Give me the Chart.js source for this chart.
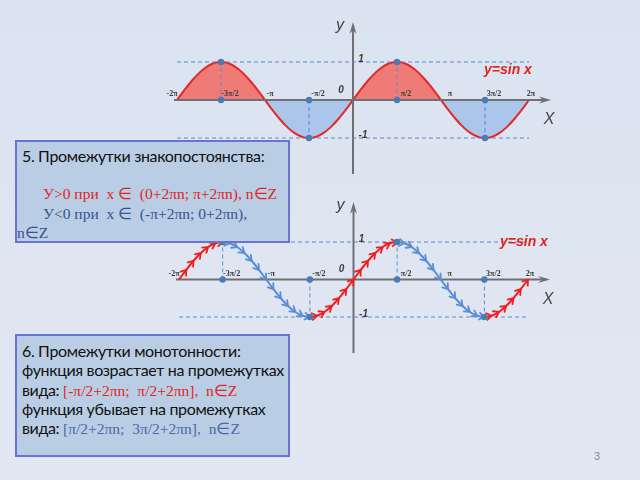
<!DOCTYPE html>
<html><head><meta charset="utf-8">
<script src="https://cdn.jsdelivr.net/npm/chart.js@4/dist/chart.umd.min.js"></script>
<style>
html,body{margin:0;padding:0;}
body{width:640px;height:480px;overflow:hidden;position:relative;background:linear-gradient(180deg,#dae3f0 0%,#e2e8f3 100%);}
canvas{position:absolute;left:0;}
#c1{top:0;} #c2{top:180px;}
.box{position:absolute;left:15px;width:275px;background:#b9cde4;border:2px solid #6b72d6;box-sizing:border-box;}
.ln{position:absolute;white-space:pre;line-height:20px;height:20px;}
.sans{font-family:"Lato","Liberation Sans",sans-serif;font-size:16px;letter-spacing:-0.35px;color:#111;}
.serif{font-family:"Liberation Serif",serif;font-size:15.5px;letter-spacing:0;}
.red{color:#e3241d;} .blue{color:#34548f;} .blue2{color:#4a69a6;}
#pg{position:absolute;left:594px;top:450px;font:11px "Liberation Sans",sans-serif;color:#8a8a8a;}
</style></head>
<body>
<canvas id="c1" width="640" height="180"></canvas>
<canvas id="c2" width="640" height="180"></canvas>
<div class="box" style="top:140px;height:103px">
  <div class="ln sans" style="top:4px;left:5px">5. Промежутки знакопостоянства:</div>
  <div class="ln serif red" style="top:42px;left:26px">У&gt;0 при  x ∈  (0+2πn; π+2πn), n∈Z</div>
  <div class="ln serif blue" style="top:62px;left:26px">У&lt;0 при  x ∈  (-π+2πn; 0+2πn),</div>
  <div class="ln serif blue" style="top:81px;left:0px">n∈Z</div>
</div>
<div class="box" style="top:334px;height:123px">
  <div class="ln sans" style="top:5px;left:5px">6. Промежутки монотонности:</div>
  <div class="ln sans" style="top:24px;left:5px">функция возрастает на промежутках</div>
  <div class="ln sans" style="top:44px;left:5px">вида: <span class="serif red">[-π/2+2πn;  π/2+2πn],  n∈Z</span></div>
  <div class="ln sans" style="top:63px;left:5px">функция убывает на промежутках</div>
  <div class="ln sans" style="top:82px;left:5px">вида: <span class="serif blue2">[π/2+2πn;  3π/2+2πn],  n∈Z</span></div>
</div>
<div id="pg">3</div>
<script>
// ---- data (x in units of π) ----
const sinValues = [0,0.259,0.5,0.707,0.866,0.966,1,0.966,0.866,0.707,0.5,0.259,
  0,-0.259,-0.5,-0.707,-0.866,-0.966,-1,-0.966,-0.866,-0.707,-0.5,-0.259,
  0,0.259,0.5,0.707,0.866,0.966,1,0.966,0.866,0.707,0.5,0.259,
  0,-0.259,-0.5,-0.707,-0.866,-0.966,-1,-0.966,-0.866,-0.707,-0.5,-0.259,0];
const xStart = -2, xStepsPerPi = 12;
const tickPos = [-2,-1.5,-1,-0.5,0.5,1,1.5,2];
const tickLabels = ['-2π','-3π/2','-π','-π/2','π/2','π','3π/2','2π'];
const keyX = [-1.5,-0.5,0.5,1.5];
const keyY = [1,-1,1,-1];
const levels = [1,-1];
const increasing = [[-2,-1.5],[-0.5,0.5],[1.5,2]];
const decreasing = [[-1.5,-0.5],[0.5,1.5]];
const funcLabel = 'y=sin x';

const xPi = sinValues.map((_, k) => xStart + k / xStepsPerPi);
const curve = sinValues.map((v, i) => ({x: xPi[i], y: v}));
const inRanges = (x, rs) => rs.some(([a,b]) => x >= a - 1e-9 && x <= b + 1e-9);
const partial = rs => sinValues.map((v, i) => ({x: xPi[i], y: inRanges(xPi[i], rs) ? v : null}));

const dash = {borderColor:'#5b8ad0', borderWidth:1, borderDash:[4,3], pointRadius:0, clip:false, order:1, fill:false};
const guideSets = () => [
  ...levels.map(v => ({...dash, data:[{x:-2,y:v},{x:2,y:v}]})),
  ...keyX.map((x,i) => ({...dash, data:[{x:x,y:0},{x:x,y:keyY[i]}]}))
];
const dotSet = () => ({data: keyX.flatMap((x,i)=>[{x:x,y:keyY[i]},{x:x,y:0}]), showLine:false,
  pointRadius:3.2, pointBackgroundColor:'#4c7ab5', pointBorderColor:'#4c7ab5', borderWidth:0, clip:false, order:0});

function axesPlugin(labelPos){
  return {
    id:'axes'+Math.random(),
    afterDatasetDraw(chart, args){
      if(!chart.data.datasets[args.index].axisAfter) return;
      const ctx = chart.ctx, xs = chart.scales.x, ys = chart.scales.y;
      const y0 = ys.getPixelForValue(0), x0 = xs.getPixelForValue(0);
      const xL = xs.getPixelForValue(-2) - 3, xR = xs.getPixelForValue(2) + 22;
      const yT = ys.getPixelForValue(1) - 40, yB = ys.getPixelForValue(-1) + 36;
      ctx.save();
      ctx.strokeStyle = '#6f6f74'; ctx.fillStyle = '#6f6f74'; ctx.lineWidth = 2;
      ctx.beginPath(); ctx.moveTo(xL, y0); ctx.lineTo(xR - 4, y0); ctx.stroke();
      ctx.beginPath(); ctx.moveTo(x0, yB); ctx.lineTo(x0, yT + 4); ctx.stroke();
      ctx.beginPath(); ctx.moveTo(xR - 12, y0 - 3.5); ctx.lineTo(xR, y0); ctx.lineTo(xR - 12, y0 + 3.5); ctx.lineTo(xR - 8, y0); ctx.closePath(); ctx.fill();
      ctx.beginPath(); ctx.moveTo(x0 - 3.5, yT + 12); ctx.lineTo(x0, yT); ctx.lineTo(x0 + 3.5, yT + 12); ctx.lineTo(x0, yT + 8); ctx.closePath(); ctx.fill();
      ctx.restore();
    },
    afterDraw(chart){
      const ctx = chart.ctx, xs = chart.scales.x, ys = chart.scales.y;
      const y0 = ys.getPixelForValue(0), x0 = xs.getPixelForValue(0);
      ctx.save();
      ctx.fillStyle = '#3a3a3a'; ctx.textBaseline = 'middle'; ctx.textAlign = 'center';
      ctx.font = 'bold 8px "Liberation Serif", serif';
      tickPos.forEach((p,i) => {
        let dx = 9; if (p === -2) dx = -5; if (p === 2) dx = 2; if (p === -1) dx = 5;
        ctx.fillText(tickLabels[i], xs.getPixelForValue(p) + dx, y0 - 6);
      });
      ctx.font = 'bold italic 10px "Liberation Sans", sans-serif';
      ctx.fillText('0', x0 - 12, y0 - 10);
      ctx.fillText('1', x0 + 8, ys.getPixelForValue(1) - 3);
      ctx.fillText('-1', x0 + 10, ys.getPixelForValue(-1) - 3);
      ctx.fillStyle = '#454545';
      ctx.font = 'italic 16px "Liberation Sans", sans-serif';
      ctx.fillText('y', x0 - 13, ys.getPixelForValue(1) - 36);
      ctx.fillText('X', xs.getPixelForValue(2) + 20, y0 + 20);
      ctx.fillStyle = '#e3241d';
      ctx.font = 'bold italic 14px "Liberation Sans", sans-serif';
      ctx.textAlign = 'left';
      ctx.fillText(funcLabel, labelPos.x(xs), ys.getPixelForValue(labelPos.y));
      ctx.restore();
    }
  };
}

const chevronPlugin = {
  id:'chev',
  afterDatasetDraw(chart, args){
    const ds = chart.data.datasets[args.index];
    if(!ds.chevron) return;
    const pts = args.meta.data, ctx = chart.ctx;
    ctx.save();
    ctx.strokeStyle = ds.borderColor; ctx.lineWidth = 1.8; ctx.lineCap = 'round'; ctx.lineJoin = 'round';
    for(let i = 1; i < pts.length; i++){
      const a = pts[i-1], b = pts[i];
      if(a.skip || b.skip) continue;
      const ang = Math.atan2(b.y - a.y, b.x - a.x), L = 6, s = 0.6;
      ctx.beginPath();
      ctx.moveTo(b.x - L*Math.cos(ang - s), b.y - L*Math.sin(ang - s));
      ctx.lineTo(b.x, b.y);
      ctx.lineTo(b.x - L*Math.cos(ang + s), b.y - L*Math.sin(ang + s));
      ctx.stroke();
    }
    ctx.restore();
  }
};

function baseOptions(pad){
  return {
    responsive:false, animation:false, devicePixelRatio:1,
    layout:{padding:pad},
    plugins:{legend:{display:false}, tooltip:{enabled:false}},
    scales:{x:{type:'linear', min:-2, max:2, display:false}, y:{min:-1, max:1, display:false}}
  };
}

new Chart(document.getElementById('c1'), {
  type:'line',
  data:{datasets:[
    dotSet(),
    ...guideSets(),
    {data:curve, borderColor:'#e3282a', borderWidth:2, pointRadius:0, cubicInterpolationMode:'monotone', clip:false, order:2, axisAfter:true,
     fill:{target:'origin', above:'rgba(240,108,100,0.88)', below:'rgba(166,194,234,0.9)'}}
  ]},
  options: baseOptions({left:177, right:111, top:62, bottom:42}),
  plugins:[axesPlugin({x: xs => xs.getPixelForValue(2) - 45, y: 0.78})]
});

new Chart(document.getElementById('c2'), {
  type:'line',
  data:{datasets:[
    dotSet(),
    {data:partial(increasing), borderColor:'#f21c1c', borderWidth:2, pointRadius:0, cubicInterpolationMode:'monotone', clip:false, order:1, chevron:true, fill:false, spanGaps:false},
    {data:partial(decreasing), borderColor:'#5a8dd4', borderWidth:2, pointRadius:0, cubicInterpolationMode:'monotone', clip:false, order:1, chevron:true, fill:false, spanGaps:false},
    ...guideSets().map(d => ({...d, order:3})),
    {data:[], order:4, axisAfter:true}
  ]},
  options: baseOptions({left:179, right:112, top:62, bottom:43}),
  plugins:[axesPlugin({x: xs => xs.getPixelForValue(2) - 28, y: 1}), chevronPlugin]
});
</script>
</body></html>
